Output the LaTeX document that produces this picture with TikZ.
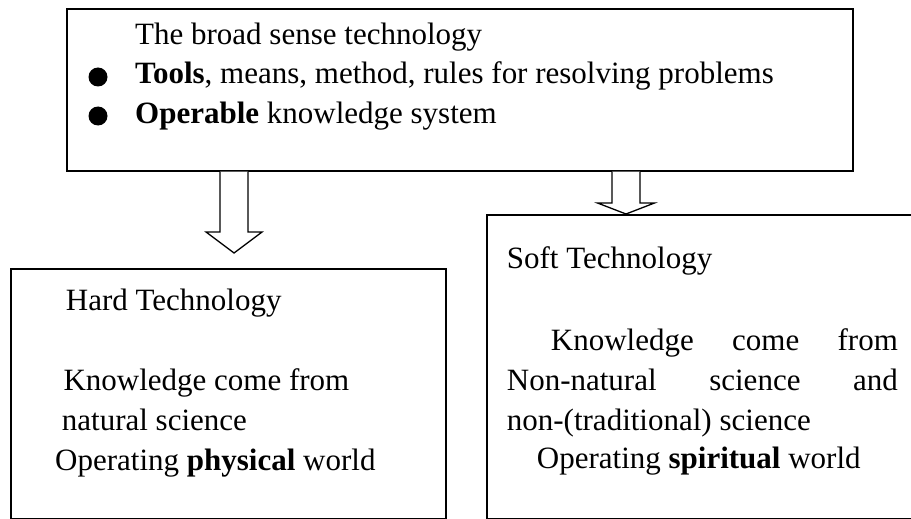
\documentclass[tikz,border=0pt]{standalone}
\usepackage{fontspec}
\setmainfont{Liberation Serif}
\usetikzlibrary{calc}
\begin{document}
\begin{tikzpicture}[x=1pt,y=-1pt,
  box/.style={draw, line width=1.6pt, rectangle, inner sep=0pt, anchor=north west},
  txt/.style={anchor=base west, inner sep=0pt, font=\fontsize{31}{39}\selectfont},
  bullet/.style={circle, fill=black, inner sep=0pt, minimum size=19pt},
  blockarrow/.style={draw, line width=1.3pt, fill=white, line join=miter}]
\useasboundingbox (0,0) rectangle (911,519);
% boxes
\node[box, minimum width=786pt, minimum height=162pt] (top) at (66,8) {};
\node[box, minimum width=435pt, minimum height=250pt] (hard) at (10,268) {};
\node[box, minimum width=440pt, minimum height=304pt] (soft) at (486,214) {};
% top box text
\node[txt] (t1) at (135,45) {The broad sense technology};
\node[bullet] (b1) at (98,77) {};
\node[txt] (t2) at (135,84) {\textbf{Tools}, means, method, rules for resolving problems};
\node[bullet] (b2) at (98,116) {};
\node[txt] (t3) at (135,123) {\textbf{Operable} knowledge system};
% hard box text
\node[txt] (h1) at (65.7,310.7) {Hard Technology};
\node[txt] (h2) at (63.3,390.7) {Knowledge come from};
\node[txt] (h3) at (61.7,430) {natural science};
\node[txt] (h4) at (55,470) {Operating \textbf{physical} world};
% soft box text
\node[txt] (s1) at (506.7,268) {Soft Technology};
\node[txt] (s2) at (550.7,350) {\makebox[347pt][s]{Knowledge come from}};
\node[txt] (s3) at (506.7,390) {\makebox[391pt][s]{Non-natural science and}};
\node[txt] (s4) at (506.7,430) {non-(traditional) science};
\node[txt] (s5) at (536.7,468) {Operating \textbf{spiritual} world};
% block arrows
\coordinate (a1s) at (top.south -| 234,0);
\coordinate (a1t) at (234,253);
\coordinate (a2s) at (top.south -| 626,0);
\coordinate (a2t) at (soft.north -| 626,0);
\draw[blockarrow] ($(a1s)+(-14,0)$) -- ($(a1t)+(-14,-21)$) -- ($(a1t)+(-28,-21)$) -- (a1t)
  -- ($(a1t)+(28,-21)$) -- ($(a1t)+(14,-21)$) -- ($(a1s)+(14,0)$);
\draw[blockarrow] ($(a2s)+(-14,0)$) -- ($(a2t)+(-14,-11)$) -- ($(a2t)+(-28.5,-11)$) -- (a2t)
  -- ($(a2t)+(28.5,-11)$) -- ($(a2t)+(14,-11)$) -- ($(a2s)+(14,0)$);
\end{tikzpicture}
\end{document}
